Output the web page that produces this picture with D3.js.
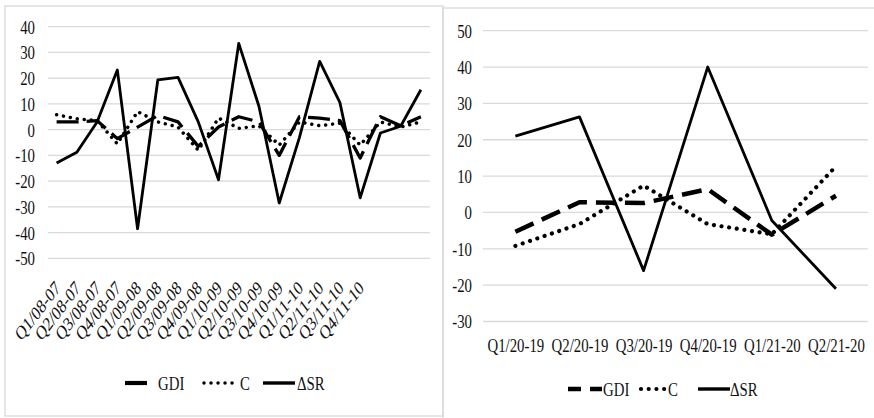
<!DOCTYPE html>
<html><head><meta charset="utf-8">
<script src="https://cdn.jsdelivr.net/npm/d3@7/dist/d3.min.js"></script>
<style>
html,body{margin:0;padding:0;background:#fff;}
svg{display:block;font-family:"Liberation Serif","Times New Roman",serif;}
</style></head>
<body>
<svg id="chart" width="874" height="418"></svg>
<script>
// ---------- data ----------
const catsL = ['Q1/08-07','Q2/08-07','Q3/08-07','Q4/08-07','Q1/09-08','Q2/09-08','Q3/09-08','Q4/09-08',
  'Q1/10-09','Q2/10-09','Q3/10-09','Q4/10-09','Q1/11-10','Q2/11-10','Q3/11-10','Q4/11-10','','',''];
const gdiL = [3, 3, 3.5, -3.5, 1, 5.5, 3, -6.5, 1, 5, 3, -10, 5, 4.5, 3.5, -11, 5, 1.5, 5];
const cL   = [5.8, 4.2, 3.5, -5.5, 7, 3, 1, -8, 4.5, 0.5, 1.5, -6, 3, 1.5, 2.5, -6, 3, 1, 3];
const dsrL = [-13, -8.8, 3, 23.2, -38.5, 19.3, 20.3, 3, -19.5, 33.5, 9, -28.5, -3, 26.5, 10.5, -26.5, -1.3, 1.3, 15.5];
const yTicksL = [-50, -40, -30, -20, -10, 0, 10, 20, 30, 40];

const catsR = ['Q1/20-19','Q2/20-19','Q3/20-19','Q4/20-19','Q1/21-20','Q2/21-20'];
const gdiR = [-5.3, 2.8, 2.6, 6.4, -6.1, 4.6];
const cR   = [-9.2, -3.2, 7.4, -3.2, -6, 12.7];
const dsrR = [21, 26.3, -16, 40, -2.2, -21];
const yTicksR = [-30, -20, -10, 0, 10, 20, 30, 40, 50];

const seriesNames = ['GDI', 'C', '\u0394SR'];

// ---------- setup ----------
const svg = d3.select('#chart');
const SX = 0.76;          // horizontal squeeze of the text
const FS = 19.5;
const grid = '#d9d9d9';
const ink = '#111';

svg.append('rect').attr('x',5).attr('y',6).attr('width',438).attr('height',410)
  .attr('fill','none').attr('stroke',grid).attr('stroke-width',1.3);
svg.append('rect').attr('x',443).attr('y',8).attr('width',440).attr('height',420)
  .attr('fill','none').attr('stroke',grid).attr('stroke-width',1.3);

function squeezeText(sel){
  sel.each(function(){
    const t = d3.select(this);
    const x = +t.attr('x') || 0;
    t.attr('x', null).attr('transform', `translate(${x},0) scale(${SX},1)`);
  });
}

function panel(o){
  const g = svg.append('g');
  const x = d3.scalePoint().domain(d3.range(o.cats.length)).range(o.xr).padding(0.5);
  const y = d3.scaleLinear().domain(o.yd).range(o.yr);
  // gridlines
  g.append('g').selectAll('line').data(o.yTicks).join('line')
    .attr('x1', o.gx[0]).attr('x2', o.gx[1])
    .attr('y1', d => y(d)).attr('y2', d => y(d))
    .attr('stroke', grid).attr('stroke-width', 1.3);
  // y axis labels
  const ya = g.append('g').attr('transform', `translate(${o.ylx},0)`)
    .call(d3.axisLeft(y).tickValues(o.yTicks).tickSize(0).tickPadding(0).tickFormat(d => String(d)));
  ya.select('.domain').remove();
  ya.selectAll('text').attr('font-size', FS).attr('fill', ink)
    .attr('font-family','"Liberation Serif","Times New Roman",serif').attr('dy','0.33em');
  squeezeText(ya.selectAll('text'));
  // x axis labels
  const xa = g.append('g').attr('transform', `translate(0,${o.xly})`)
    .call(d3.axisBottom(x).tickSize(0).tickPadding(0).tickFormat(i => o.cats[i]));
  xa.select('.domain').remove();
  xa.selectAll('text').attr('font-size', FS).attr('fill', ink)
    .attr('font-family','"Liberation Serif","Times New Roman",serif');
  if (o.rotate) {
    xa.selectAll('text').attr('y', null).attr('dy', null).attr('text-anchor','end')
      .attr('transform', `translate(4,0) scale(${SX},1) rotate(-45)`);
  } else {
    xa.selectAll('text').attr('y', null).attr('dy', null)
      .attr('transform', `scale(${SX},1)`);
  }
  // series lines
  const line = d3.line().x((d,i) => x(i)).y(d => y(d));
  o.series.forEach(s => {
    g.append('path').datum(s.values).attr('d', line)
      .attr('fill','none').attr('stroke','#000')
      .attr('stroke-width', s.w).attr('stroke-dasharray', s.dash || null)
      .attr('stroke-linecap', s.cap || 'butt').attr('stroke-linejoin','round');
  });
  // legend
  const lg = g.append('g').attr('transform', `translate(0,${o.legY})`);
  o.series.forEach((s, k) => {
    const L = o.leg[k];
    lg.append('line').attr('x1', L[0]).attr('x2', L[1]).attr('y1', 0).attr('y2', 0)
      .attr('stroke','#000').attr('stroke-width', s.lw || s.w)
      .attr('stroke-dasharray', s.ldash === undefined ? (s.dash || null) : s.ldash)
      .attr('stroke-linecap', s.cap || 'butt');
    lg.append('text').attr('transform', `translate(${L[2]},6.5) scale(${SX},1)`)
      .attr('font-size', FS).attr('fill', ink).text(seriesNames[k]);
  });
}

panel({
  cats: catsL, xr: [46.5, 431], gx: [48, 430], yd: [-50, 40], yr: [258.3, 26.7],
  yTicks: yTicksL, ylx: 35, xly: 289, rotate: true, legY: 383,
  series: [
    {values: gdiL, w: 3.3, lw: 4.2, dash: '22 8', ldash: null},
    {values: cL, w: 3.5, dash: '0.01 7', cap: 'round'},
    {values: dsrL, w: 2.8, lw: 3.4}
  ],
  leg: [[125,147,158],[204,238,240],[263,295,297]]
});

panel({
  cats: catsR, xr: [483.3, 868], gx: [483, 868], yd: [-30, 50], yr: [321.5, 30.7],
  yTicks: yTicksR, ylx: 472, xly: 352, rotate: false, legY: 389,
  series: [
    {values: gdiR, w: 4.5, dash: '20 9', ldash: '13 9'},
    {values: cR, w: 4.2, dash: '0.01 7.7', cap: 'round'},
    {values: dsrR, w: 2.8, lw: 3.4}
  ],
  leg: [[568,602,603],[641,667,668],[698,730,730]]
});
</script>
</body></html>
